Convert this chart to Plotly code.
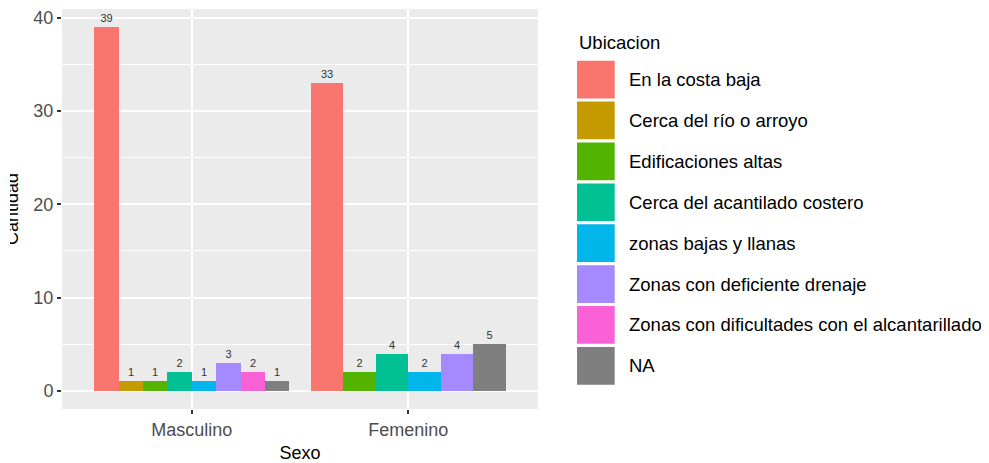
import plotly.graph_objects as go

# ---- data ----
sexo = ["Masculino", "Femenino"]
ubicacion = [
    "En la costa baja",
    "Cerca del río o arroyo",
    "Edificaciones altas",
    "Cerca del acantilado costero",
    "zonas bajas y llanas",
    "Zonas con deficiente drenaje",
    "Zonas con dificultades con el alcantarillado",
    "NA",
]
masculino = [39, 1, 1, 2, 1, 3, 2, 1]
femenino = [33, None, 2, 4, 2, 4, None, 5]
y_ticks = [0, 10, 20, 30, 40]

colors = ["#F8766D", "#C49A00", "#53B400", "#00C094",
          "#00B6EB", "#A58AFF", "#FB61D7", "#7F7F7F"]

# ---- layout geometry (page body has an 8px default margin) ----
OFF = 8
PAGE_W, PAGE_H = 989, 463
W, H = PAGE_W - OFF, PAGE_H - OFF
# panel edges in page pixels
P_LEFT, P_RIGHT, P_TOP, P_BOTTOM = 62, 538, 9, 409
ML, MR = P_LEFT - OFF, PAGE_W - P_RIGHT
MT, MB = P_TOP - OFF, PAGE_H - P_BOTTOM
PW, PH = P_RIGHT - P_LEFT, P_BOTTOM - P_TOP

def px_x(px):
    return (px - P_LEFT) / PW

def px_y(py):
    return 1 - (py - P_TOP) / PH

FONT = "Liberation Sans, Arial, sans-serif"

# dodge positions (ggplot position_dodge with group width 0.9)
groups = [masculino, femenino]
pos = {}
for gi, vals in enumerate(groups):
    present = [ci for ci, v in enumerate(vals) if v is not None]
    n = len(present)
    w = 0.9 / n
    for k, ci in enumerate(present):
        pos[(gi, ci)] = (gi + 1 + (k - (n - 1) / 2) * w, w)

fig = go.Figure()
for ci, name in enumerate(ubicacion):
    xs, ys, ws = [], [], []
    for gi, vals in enumerate(groups):
        v = vals[ci]
        if v is None:
            continue
        x, w = pos[(gi, ci)]
        xs.append(x)
        ys.append(v)
        ws.append(w)
    fig.add_trace(go.Bar(
        x=xs, y=ys, width=ws, name=name,
        marker=dict(color=colors[ci], line=dict(width=0)),
        text=[str(v) for v in ys], textposition="outside",
        textfont=dict(size=11, color="#333333", family=FONT),
        constraintext="none", cliponaxis=False, showlegend=False,
    ))

fig.update_layout(
    width=W, height=H,
    margin=dict(l=ML, r=MR, t=MT, b=MB, pad=0, autoexpand=False),
    paper_bgcolor="white", plot_bgcolor="#EBEBEB",
    barmode="overlay", bargap=0,
    font=dict(family=FONT, size=18, color="#4D4D4D"),
    xaxis=dict(
        range=[0.4, 2.6], tickvals=[1, 2], ticktext=sexo,
        showgrid=True, gridcolor="white", gridwidth=2, zeroline=False,
        ticks="outside", ticklen=4, tickwidth=1.5, tickcolor="#333333",
        tickfont=dict(size=18, color="#4D4D4D"),
        title=dict(text="Sexo", font=dict(size=18, color="black"), standoff=9),
        showline=False, automargin=False,
    ),
    yaxis=dict(
        range=[-1.95, 40.95], tickvals=y_ticks,
        showgrid=True, gridcolor="white", gridwidth=2, zeroline=False,
        ticks="outside", ticklen=4, tickwidth=1.5, tickcolor="#333333",
        tickfont=dict(size=18, color="#4D4D4D"),
        minor=dict(dtick=5, tick0=0, showgrid=True, gridcolor="white", gridwidth=1),
        showline=False, automargin=False,
    ),
)

# y-axis title (partially clipped at the left edge as in the reference)
fig.add_annotation(
    text="Cantidad", xref="paper", yref="paper",
    x=px_x(24), y=0.5, xanchor="right", yanchor="middle",
    textangle=-90, showarrow=False,
    font=dict(size=18, color="black", family=FONT),
)
fig.add_annotation(
    text=" ", xref="paper", yref="paper",
    x=px_x(OFF), y=0.5, xanchor="left", yanchor="middle",
    width=2, height=140, bgcolor="white", borderpad=0, borderwidth=0,
    showarrow=False,
)

# legend drawn manually (large ggplot-style keys)
key_left, key_size, key_top0, pitch = 577, 37.7, 60.7, 40.9
fig.add_annotation(
    text="Ubicacion", xref="paper", yref="paper",
    x=px_x(key_left), y=px_y(42), xanchor="left", yanchor="middle",
    showarrow=False, font=dict(size=18.5, color="black", family=FONT),
)
for ci, name in enumerate(ubicacion):
    top = key_top0 + ci * pitch
    fig.add_shape(
        type="rect", xref="paper", yref="paper",
        x0=px_x(key_left), x1=px_x(key_left + key_size),
        y0=px_y(top + key_size), y1=px_y(top),
        fillcolor=colors[ci], line=dict(width=0), layer="above",
    )
    fig.add_annotation(
        text=name, xref="paper", yref="paper",
        x=px_x(627), y=px_y(top + key_size / 2), xanchor="left", yanchor="middle",
        showarrow=False, font=dict(size=18.5, color="black", family=FONT),
    )

fig.write_html("out.html")
